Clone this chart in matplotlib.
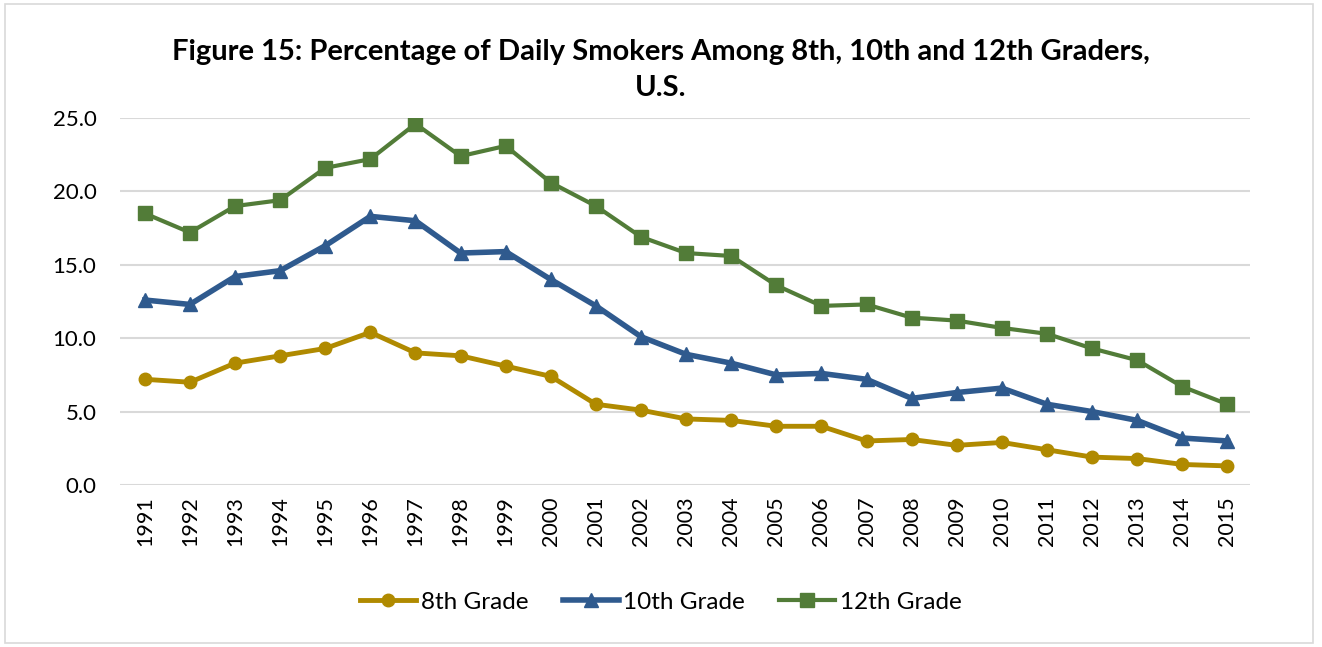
import numpy as np
import matplotlib
matplotlib.use("Agg")
import matplotlib.pyplot as plt
from matplotlib.patches import Rectangle

plt.rcParams['font.family'] = ['Lato', 'DejaVu Sans']

years = [str(y) for y in range(1991, 2016)]
grade8 = [7.2, 7.0, 8.3, 8.8, 9.3, 10.4, 9.0, 8.8, 8.1, 7.4, 5.5, 5.1, 4.5,
          4.4, 4.0, 4.0, 3.0, 3.1, 2.7, 2.9, 2.4, 1.9, 1.8, 1.4, 1.3]
grade10 = [12.6, 12.3, 14.2, 14.6, 16.3, 18.3, 18.0, 15.8, 15.9, 14.0, 12.2, 10.1, 8.9,
           8.3, 7.5, 7.6, 7.2, 5.9, 6.3, 6.6, 5.5, 5.0, 4.4, 3.2, 3.0]
grade12 = [18.5, 17.2, 19.0, 19.4, 21.6, 22.2, 24.6, 22.4, 23.1, 20.6, 19.0, 16.9, 15.8,
           15.6, 13.6, 12.2, 12.3, 11.4, 11.2, 10.7, 10.3, 9.3, 8.5, 6.7, 5.5]
yticks = [0, 5, 10, 15, 20, 25]

fig = plt.figure(figsize=(13.22, 6.47), dpi=100)
fig.patches.append(Rectangle((5 / 1322, 4 / 647), 1308 / 1322, 639 / 647,
                             transform=fig.transFigure, fill=False,
                             edgecolor='#D9D9D9', linewidth=1.2))
ax = fig.add_axes([120 / 1322, 1 - 485 / 647, 1130 / 1322, 367 / 647])

x = np.arange(len(years))
ax.plot(x, grade8, color='#B08A00', linewidth=3.5, marker='o', markersize=9,
        label='8th Grade')
ax.plot(x, grade10, color='#2F5A8E', linewidth=4, marker='^', markersize=10,
        label='10th Grade')
ax.plot(x, grade12, color='#527C38', linewidth=3, marker='s', markersize=10,
        label='12th Grade')

ax.set_xlim(-0.55, len(years) - 0.5)
ax.set_ylim(0, 25)
ax.set_yticks(yticks)
ax.set_yticklabels([f'{v:.1f}' for v in yticks], fontsize=16)
ax.set_xticks(x)
ax.set_xticklabels(years, rotation=90, fontsize=15.5)
ax.tick_params(axis='x', length=0, pad=8)
ax.tick_params(axis='y', length=0, pad=17)
ax.grid(axis='y', color='#D9D9D9', linewidth=1.5)
ax.set_axisbelow(True)
for s in ax.spines.values():
    s.set_visible(False)

fig.suptitle('Figure 15: Percentage of Daily Smokers Among 8th, 10th and 12th Graders,\nU.S.',
             x=0.5, y=1 - 39 / 647, fontsize=21, fontweight='bold', va='top',
             linespacing=1.5)

fig.legend(loc='center', bbox_to_anchor=(0.5, 1 - 602 / 647), ncol=3, frameon=False,
           fontsize=17.5, handlelength=2.3, columnspacing=1.4, handletextpad=0.2)

fig.savefig('out.png', dpi=100)
